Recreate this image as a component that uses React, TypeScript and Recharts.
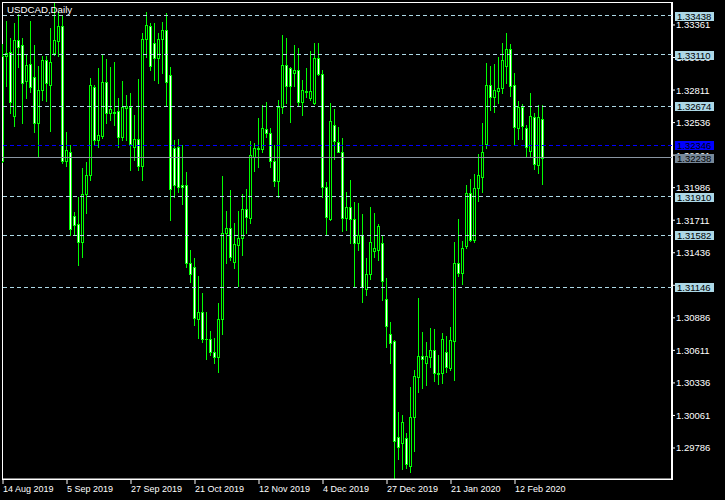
import React from 'react';
import { ComposedChart, Bar, XAxis, YAxis, ReferenceLine, ReferenceArea } from 'recharts';

const dateLabels = ['14 Aug 2019', '5 Sep 2019', '27 Sep 2019', '21 Oct 2019', '12 Nov 2019', '4 Dec 2019', '27 Dec 2019', '21 Jan 2020', '12 Feb 2020'];
const dateTickIdx = [0, 16, 32, 48, 64, 80, 96, 112, 128];

const openP = [
  1.33099, 1.33099, 1.33133, 1.32592, 1.33234, 1.33192, 1.32888, 1.33031, 1.32922, 1.32533,
  1.32812, 1.33065, 1.32854, 1.33125, 1.33226, 1.33352, 1.32212, 1.32288, 1.31747, 1.31679,
  1.31527, 1.31933, 1.32094, 1.32837, 1.32389, 1.32423, 1.3288, 1.32618, 1.32626, 1.32635,
  1.32415, 1.3266, 1.32668, 1.3233, 1.32398, 1.32169, 1.33243, 1.33352, 1.33209, 1.33082,
  1.33243, 1.33319, 1.32939, 1.32321, 1.3233, 1.32009, 1.32009, 1.3135, 1.31316, 1.30877,
  1.30936, 1.30708, 1.30708, 1.30598, 1.30556, 1.30877, 1.31604, 1.31645, 1.31358, 1.31502,
  1.31561, 1.31806, 1.3173, 1.32246, 1.32313, 1.32313, 1.32482, 1.32449, 1.32212, 1.32043,
  1.32668, 1.33023, 1.32997, 1.32956, 1.32981, 1.3271, 1.32795, 1.32744, 1.32702, 1.33082,
  1.32947, 1.31992, 1.31722, 1.32516, 1.32372, 1.32288, 1.3173, 1.31823, 1.31722, 1.31519,
  1.31587, 1.3113, 1.31257, 1.31452, 1.3146, 1.31519, 1.31046, 1.3075, 1.30691, 1.2988,
  1.29829, 1.29871, 1.29634, 1.30049, 1.30387, 1.30564, 1.30505, 1.30556, 1.30615, 1.3042,
  1.3042, 1.30598, 1.30463, 1.30691, 1.3135, 1.31266, 1.31493, 1.31941, 1.31544, 1.31984,
  1.32077, 1.32355, 1.32854, 1.32753, 1.32803, 1.32829, 1.33014, 1.33158, 1.32854, 1.3249,
  1.32668, 1.3249, 1.32297, 1.32584, 1.32178, 1.32567,
];
const highP = [
  1.332, 1.33395, 1.33251, 1.33378, 1.33454, 1.33251, 1.33116, 1.33395, 1.33192, 1.33014,
  1.33099, 1.33099, 1.33335, 1.3355, 1.33471, 1.33445, 1.32457, 1.32347, 1.31781, 1.31908,
  1.32152, 1.32203, 1.32913, 1.32854, 1.32997, 1.33108, 1.33074, 1.33006, 1.33048, 1.32744,
  1.32888, 1.3277, 1.32787, 1.32601, 1.32905, 1.33294, 1.33471, 1.33378, 1.33378, 1.33294,
  1.33386, 1.33463, 1.33006, 1.32389, 1.32398, 1.32347, 1.32119, 1.3146, 1.31392, 1.3124,
  1.31097, 1.30936, 1.30776, 1.30716, 1.31012, 1.32085, 1.3179, 1.31967, 1.31688, 1.3179,
  1.31933, 1.31975, 1.32381, 1.32364, 1.32575, 1.32685, 1.3271, 1.3249, 1.32347, 1.32727,
  1.33277, 1.33251, 1.33006, 1.33192, 1.33166, 1.32896, 1.32997, 1.33142, 1.33209, 1.33209,
  1.32981, 1.32034, 1.32702, 1.32651, 1.32499, 1.32406, 1.3195, 1.32051, 1.31865, 1.31857,
  1.31764, 1.31392, 1.31823, 1.31773, 1.31679, 1.31578, 1.31223, 1.30851, 1.30699, 1.30091,
  1.30066, 1.29913, 1.30302, 1.30446, 1.31054, 1.30767, 1.30682, 1.30801, 1.30793, 1.30573,
  1.30759, 1.30733, 1.30809, 1.31527, 1.31722, 1.31535, 1.32009, 1.32059, 1.32102, 1.32271,
  1.32533, 1.3304, 1.33014, 1.33031, 1.33091, 1.33209, 1.33294, 1.332, 1.32956, 1.32719,
  1.32693, 1.32516, 1.32787, 1.32618, 1.32685, 1.32685,
];
const lowP = [
  1.32203, 1.32845, 1.32618, 1.32507, 1.33006, 1.32533, 1.32744, 1.32795, 1.32457, 1.32246,
  1.32727, 1.32719, 1.32466, 1.33108, 1.33099, 1.32195, 1.32169, 1.31587, 1.31587, 1.31333,
  1.31401, 1.31773, 1.32051, 1.32347, 1.3233, 1.32406, 1.32533, 1.32558, 1.32516, 1.3233,
  1.32389, 1.32389, 1.32136, 1.3222, 1.32136, 1.32051, 1.33091, 1.32981, 1.32896, 1.32871,
  1.32956, 1.32685, 1.31713, 1.31908, 1.3195, 1.31848, 1.31316, 1.31189, 1.30826, 1.30716,
  1.30682, 1.30539, 1.30573, 1.30505, 1.30429, 1.3075, 1.3135, 1.31375, 1.31308, 1.31155,
  1.31418, 1.31604, 1.31688, 1.32127, 1.32161, 1.32288, 1.32415, 1.32161, 1.32, 1.31908,
  1.32618, 1.32702, 1.32541, 1.32845, 1.32685, 1.32601, 1.32753, 1.32727, 1.32693, 1.32939,
  1.31908, 1.31587, 1.31713, 1.32229, 1.32288, 1.3162, 1.31629, 1.31519, 1.31147, 1.3146,
  1.3102, 1.3108, 1.31215, 1.31401, 1.31375, 1.31037, 1.3064, 1.30505, 1.2953, 1.29694,
  1.29609, 1.29618, 1.29584, 1.29761, 1.3026, 1.30294, 1.30319, 1.30471, 1.30353, 1.30327,
  1.30336, 1.30429, 1.30446, 1.30361, 1.3124, 1.31172, 1.31477, 1.31535, 1.31527, 1.31874,
  1.3195, 1.32321, 1.32643, 1.32626, 1.32702, 1.32787, 1.32871, 1.32761, 1.32355, 1.32398,
  1.32398, 1.32246, 1.32246, 1.32144, 1.32111, 1.32017,
];
const closeP = [
  1.32212, 1.33125, 1.3271, 1.33234, 1.33175, 1.32871, 1.33023, 1.32837, 1.32533, 1.32812,
  1.33065, 1.32871, 1.33048, 1.33234, 1.33352, 1.32212, 1.32305, 1.31637, 1.31671, 1.31527,
  1.31933, 1.32094, 1.32854, 1.32389, 1.32432, 1.3288, 1.32618, 1.32651, 1.32618, 1.32415,
  1.32668, 1.32676, 1.32355, 1.32398, 1.32169, 1.33243, 1.33361, 1.33014, 1.33082, 1.33243,
  1.33319, 1.3288, 1.31975, 1.32009, 1.31992, 1.31992, 1.3135, 1.31257, 1.30885, 1.30936,
  1.30708, 1.30705, 1.30598, 1.30556, 1.30877, 1.31604, 1.31645, 1.31401, 1.3151, 1.31561,
  1.31806, 1.31739, 1.32263, 1.32321, 1.32321, 1.3249, 1.32449, 1.32212, 1.32043, 1.32668,
  1.33023, 1.32845, 1.32845, 1.32981, 1.3271, 1.32812, 1.32803, 1.32803, 1.33082, 1.32947,
  1.31992, 1.31739, 1.3255, 1.32381, 1.32285, 1.3173, 1.31823, 1.31722, 1.31519, 1.31587,
  1.31147, 1.31257, 1.31527, 1.31477, 1.31662, 1.31198, 1.30818, 1.30674, 1.29846, 1.29795,
  1.30006, 1.29651, 1.30049, 1.30395, 1.30564, 1.30539, 1.30564, 1.30615, 1.3042, 1.30412,
  1.30708, 1.30471, 1.30699, 1.3135, 1.31266, 1.31477, 1.31941, 1.31544, 1.31984, 1.32094,
  1.32288, 1.32854, 1.32753, 1.32812, 1.32829, 1.33065, 1.33158, 1.32845, 1.32499, 1.32668,
  1.32507, 1.3233, 1.32592, 1.32186, 1.32584, 1.32238,
];

const priceTicks = [1.29786, 1.30061, 1.30336, 1.30611, 1.30886, 1.31161, 1.31436, 1.31711, 1.31986, 1.32261, 1.32536, 1.32811, 1.33086, 1.33361];
const levelLines = [1.33438, 1.3311, 1.32674, 1.3191, 1.31582, 1.31146];
const markerLevel = 1.32346;
const bidLevel = 1.32238;

const FONT = 'Liberation Sans';
const LIME = '#00ff00';
const X_DOMAIN: [number, number] = [-0.25, 167.25];
const Y_DOMAIN: [number, number] = [1.29524, 1.33555];
const MARGIN = { top: 2, right: 0, bottom: 0, left: 2 };

const data = openP.map((o, i) => ({ i, open: o, high: highP[i], low: lowP[i], close: closeP[i] }));

const Candle = (props: any) => {
  const { x, y, width, height, payload } = props;
  if (!payload || x == null) return null;
  const top = height >= 0 ? y : y + height;
  const h = Math.abs(height);
  const { open, close, high, low } = payload;
  const k = high - low > 0 ? h / (high - low) : 0;
  const yO = top + (high - open) * k;
  const yC = top + (high - close) * k;
  const c = Math.round(x + width / 2 - 0.4);
  const bTop = Math.round(Math.min(yO, yC));
  const bBot = Math.round(Math.max(yO, yC));
  const wTop = Math.round(top);
  const wBot = Math.round(top + h);
  const bull = close >= open;
  return (
    <g shapeRendering="crispEdges">
      <rect x={c} y={wTop} width={1} height={wBot - wTop + 1} fill={LIME} />
      {bBot - bTop < 1 ? (
        <rect x={c - 1} y={bTop} width={3} height={1} fill={LIME} />
      ) : (
        <>
          <rect x={c - 1} y={bTop} width={3} height={bBot - bTop + 1} fill={LIME} />
          <rect x={c} y={bTop + 1} width={1} height={Math.max(0, bBot - bTop - 1)} fill={bull ? '#000' : '#fff'} />
        </>
      )}
    </g>
  );
};

const Tag = (props: any) => {
  const { viewBox, text, bg, fg } = props;
  if (!viewBox) return null;
  const yy = Math.round(viewBox.y);
  const xr = viewBox.x + viewBox.width;
  return (
    <g>
      <rect x={xr + 3} y={yy - 4} width={39} height={9} fill={bg} />
      <text x={xr + 5} y={yy + 3.6} fill={fg} fontSize={9.5} fontFamily={FONT}>{text}</text>
    </g>
  );
};

const XTick = (p: any) => {
  const idx = dateTickIdx.indexOf(p.payload.value);
  return (
    <text x={p.x} y={492} fill="#fff" fontSize={9} fontFamily={FONT} textAnchor="start">
      {idx >= 0 ? dateLabels[idx] : ''}
    </text>
  );
};

const YTick = (p: any) => (
  <text x={p.x} y={p.y + 3.5} fill="#fff" fontSize={9.5} fontFamily={FONT} textAnchor="start">
    {Number(p.payload.value).toFixed(5)}
  </text>
);

export default function App() {
  return (
    <div style={{ position: 'absolute', left: 0, top: 0, width: 725, height: 500, background: '#000', overflow: 'hidden' }}>
      <div style={{ position: 'absolute', left: 0, top: 0 }}>
        <ComposedChart width={725} height={500} data={data} margin={MARGIN}>
          <XAxis
            dataKey="i"
            type="number"
            domain={X_DOMAIN}
            allowDataOverflow
            ticks={dateTickIdx}
            interval={0}
            height={21}
            tickSize={5}
            axisLine={{ stroke: '#fff' }}
            tickLine={{ stroke: '#fff' }}
            tick={<XTick />}
          />
          <YAxis
            orientation="right"
            type="number"
            domain={Y_DOMAIN}
            allowDataOverflow
            ticks={priceTicks}
            interval={0}
            width={53}
            tickSize={3}
            tickMargin={1}
            axisLine={{ stroke: '#fff', strokeWidth: 2 }}
            tickLine={{ stroke: '#fff' }}
            tick={<YTick />}
          />
          <ReferenceArea x1={X_DOMAIN[0]} x2={X_DOMAIN[1]} y1={Y_DOMAIN[0]} y2={Y_DOMAIN[1]} stroke="#fff" fill="none" fillOpacity={0} ifOverflow="visible" shapeRendering="crispEdges" />
          <Bar dataKey={(d: any) => [d.low, d.high]} barSize={3} shape={<Candle />} isAnimationActive={false} />
        </ComposedChart>
      </div>
      <div style={{ position: 'absolute', left: 0, top: 0 }}>
        <ComposedChart width={725} height={500} data={data} margin={MARGIN}>
          <XAxis dataKey="i" type="number" domain={X_DOMAIN} allowDataOverflow height={21} tick={false} tickLine={false} axisLine={false} />
          <YAxis orientation="right" type="number" domain={Y_DOMAIN} allowDataOverflow width={53} tick={false} tickLine={false} axisLine={false} />
          {levelLines.map((v) => (
            <ReferenceLine key={v} y={v} stroke="#add8e6" strokeDasharray="4 3" shapeRendering="crispEdges"
              label={<Tag text={v.toFixed(5)} bg="#add8e6" fg="#000" />} />
          ))}
          <ReferenceLine y={bidLevel} stroke="#8a96a3" shapeRendering="crispEdges"
            label={<Tag text={bidLevel.toFixed(5)} bg="#778899" fg="#000" />} />
          <ReferenceLine y={markerLevel} stroke="#0000ff" strokeDasharray="4 3" shapeRendering="crispEdges"
            label={<Tag text={markerLevel.toFixed(5)} bg="#0000ff" fg="#000" />} />
        </ComposedChart>
      </div>
      <svg width={200} height={20} style={{ position: 'absolute', left: 0, top: 0 }}>
        <text x={7} y={12.7} fill="#fff" fontSize={9.7} fontFamily={FONT}>USDCAD,Daily</text>
      </svg>
    </div>
  );
}
